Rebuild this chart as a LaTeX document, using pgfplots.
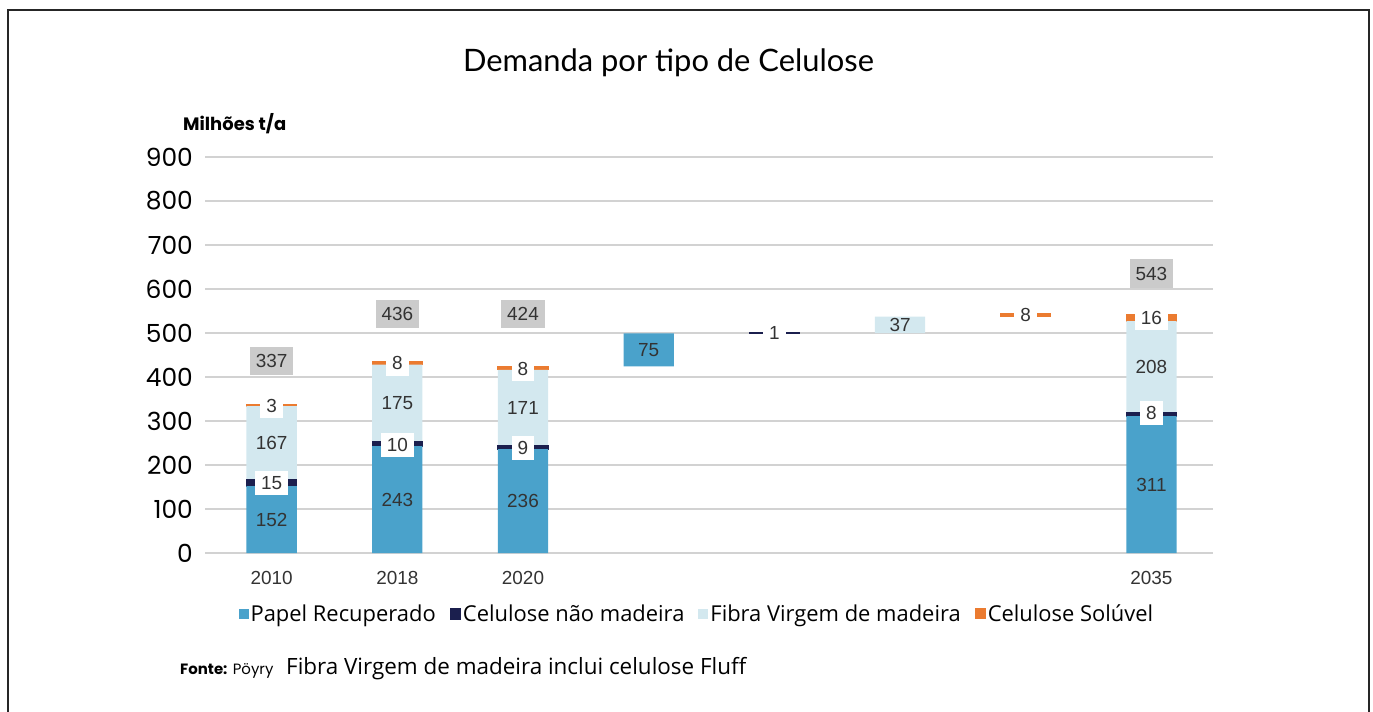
\documentclass[border=0pt]{standalone}
\usepackage{fontspec}
\setmainfont{Liberation Sans}
\newfontfamily\poppins{Poppins}
\newfontfamily\lato{Lato}
\newfontfamily\opensans{Open Sans}
\usepackage{pgfplots}
\usepackage{pgfplotstable}
\pgfplotsset{compat=1.18}
\definecolor{cblue}{HTML}{4AA2CB}
\definecolor{cnavy}{HTML}{1B1F4E}
\definecolor{clight}{HTML}{D3E8EF}
\definecolor{corange}{HTML}{EB7B30}
\definecolor{cgraybox}{HTML}{CBCBCB}
\definecolor{cgrid}{HTML}{D2D2D2}
\definecolor{ctext}{HTML}{333333}

% stacked series, x = 0..7 (2010, 2018, 2020, +75, +1, +37, +8, 2035)
\pgfplotstableread{
x base papel nao fibra sol
0 0   152 15 167 3
1 0   243 10 175 8
2 0   236 9  171 8
3 424 75  0  0   0
4 499 0   1  0   0
5 500 0   0  37  0
6 537 0   0  0   8
7 0   311 8  208 16
}\data

\pgfplotstableread{
x y l
0 159.5 15
0 334 3
1 246 10
1 431 8
2 238 9
2 419 8
4 499.5 1
6 541 8
7 318 8
7 535 16
}\whitelabels

\pgfplotstableread{
x y l
0 76 152
0 251 167
1 121.5 243
1 340.5 175
2 118 236
2 330 171
3 461.5 75
5 518.5 37
7 155.5 311
7 423 208
}\plainlabels

\pgfplotstableread{
x y l
0 436 337
1 543 436
2 543 424
7 635 543
}\totallabels

\pgfplotsset{
  common/.style={
    at={(0,0)}, anchor=south west,
    scale only axis, width=1008bp, height=396bp,
    xmin=-0.53, xmax=7.49, ymin=0, ymax=900,
  },
  sq/.style={legend image code/.code={\fill[##1] (0bp,-5bp) rectangle (10bp,5bp);}},
}

\begin{document}
\begin{tikzpicture}
\path[use as bounding box] (-205bp,-159bp) rectangle (1168bp,553bp);
\draw[line width=1.6bp, black!85] (-197bp,-170bp) -- (-197bp,543bp) -- (1164bp,543bp) -- (1164bp,-170bp);

\begin{axis}[common,
  ybar stacked, bar width=0.40, stacked ignores zero,
  ytick={0,100,...,900}, xtick={0,1,2,7}, xticklabels={2010,2018,2020,2035},
  ymajorgrids, grid style={cgrid, line width=1.3bp},
  axis line style={draw=none}, major tick length=0pt,
  /pgf/number format/assume math mode=true,
  yticklabel style={font=\poppins\fontsize{25}{25}\selectfont, text=black, inner sep=0pt, xshift=-12bp, anchor=east},
  xticklabel style={font=\fontsize{19}{19}\selectfont, text=ctext, inner sep=0pt, yshift=-18bp, anchor=north},
  legend columns=4,
  legend style={at={(0.488,-0.154)}, anchor=center, draw=none, fill=none,
    font=\opensans\fontsize{22}{22}\selectfont, inner sep=0pt,
    /tikz/every even column/.append style={column sep=12bp},
    nodes={inner sep=2bp}},
]
\addplot[forget plot, fill=none, draw=none] table[x=x, y=base] {\data};
\addplot[sq, fill=cblue, draw=none] table[x=x, y=papel] {\data};
\addlegendentry{Papel Recuperado}
\addplot[sq, fill=cnavy, draw=cnavy, line width=1.2bp] table[x=x, y=nao] {\data};
\addlegendentry{Celulose não madeira}
\addplot[sq, fill=clight, draw=none] table[x=x, y=fibra] {\data};
\addlegendentry{Fibra Virgem de madeira}
\addplot[sq, fill=corange, draw=corange, line width=1bp] table[x=x, y=sol] {\data};
\addlegendentry{Celulose Solúvel}
\end{axis}

\begin{axis}[common, hide axis, clip=false]
\addplot[only marks, mark=none, nodes near coords, point meta=explicit symbolic,
  every node near coord/.append style={anchor=center, fill=white, text=ctext,
    font=\fontsize{19}{19}\selectfont, inner xsep=6bp, inner ysep=5.5bp}]
  table[x=x, y=y, meta=l] {\whitelabels};
\addplot[only marks, mark=none, nodes near coords, point meta=explicit symbolic,
  every node near coord/.append style={anchor=center, text=ctext,
    font=\fontsize{19}{19}\selectfont}]
  table[x=x, y=y, meta=l] {\plainlabels};
\addplot[only marks, mark=none, nodes near coords, point meta=explicit symbolic,
  every node near coord/.append style={anchor=center, fill=cgraybox, text=ctext,
    font=\fontsize{19}{19}\selectfont, inner xsep=6bp, inner ysep=7.5bp}]
  table[x=x, y=y, meta=l] {\totallabels};
\end{axis}

\node[anchor=base, font=\lato\fontsize{31}{31}\selectfont] at (463.5bp,481bp) {Demanda por tipo de Celulose};
\node[anchor=base west, inner sep=0pt, font=\poppins\bfseries\fontsize{18}{18}\selectfont] at (-22bp,422bp) {Milhões t/a};
\node[anchor=base west, inner sep=0pt, font=\poppins\fontsize{15}{15}\selectfont] at (-25bp,-121bp) {\textbf{Fonte:} Pöyry};
\node[anchor=base west, inner sep=0pt, font=\opensans\fontsize{22.5}{22.5}\selectfont] at (81bp,-121bp) {Fibra Virgem de madeira inclui celulose Fluff};
\end{tikzpicture}
\end{document}
